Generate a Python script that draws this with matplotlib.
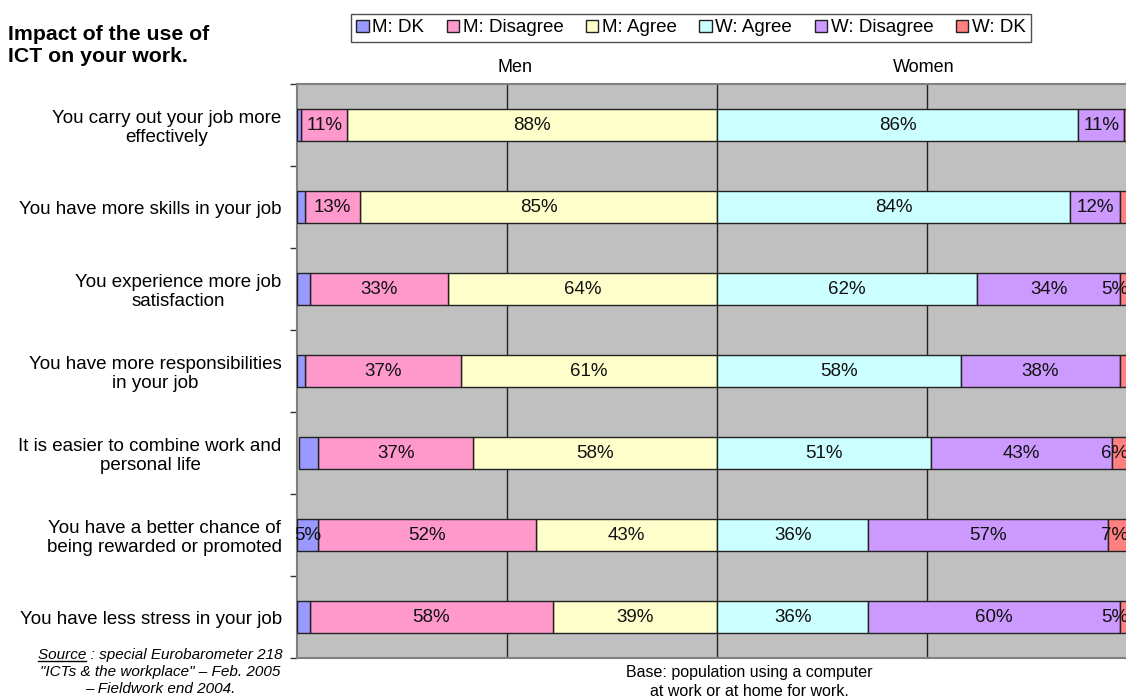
import matplotlib
matplotlib.use("Agg")
import matplotlib.pyplot as plt
from matplotlib.lines import Line2D
from matplotlib.patches import Patch

plt.rcParams['font.family'] = ['Liberation Sans', 'DejaVu Sans']

# categories top to bottom
cats = ["You carry out your job more\neffectively",
        "You have more skills in your job",
        "You experience more job\nsatisfaction",
        "You have more responsibilities\nin your job",
        "It is easier to combine work and\npersonal life",
        "You have a better chance of\nbeing rewarded or promoted",
        "You have less stress in your job"]

m_dk = [1, 2, 3, 2, 4.6, 5, 3]
m_dis = [11, 13, 33, 37, 37, 52, 58]
m_agree = [88, 85, 64, 61, 58, 43, 39]
w_agree = [86, 84, 62, 58, 51, 36, 36]
w_dis = [11, 12, 34, 38, 43, 57, 60]
w_dk = [3, 4, 5, 4, 6, 7, 5]

names = ["M: DK", "M: Disagree", "M: Agree", "W: Agree", "W: Disagree", "W: DK"]
colors = ["#9999FF", "#FF99CC", "#FFFFCC", "#CCFFFF", "#CC99FF", "#FF8080"]

W, H = 1126, 700
fig = plt.figure(figsize=(W / 100, H / 100), dpi=100)
ax = fig.add_axes([297 / W, (H - 658) / H, (1137 - 297) / W, (658 - 84) / H])
ax.set_facecolor("#C0C0C0")

ys = list(range(len(cats)))
bh = 0.4


def seg(lefts, widths, col):
    bars = ax.barh(ys, widths, left=lefts, height=bh, color=col,
                   edgecolor="#222222", linewidth=1, zorder=3)
    for y, l, w in zip(ys, lefts, widths):
        if w >= 5:
            # keep the label inside the picture at the right edge
            cx = min(l + w / 2, 94.6)
            ax.text(cx, y, "%d%%" % round(w), ha="center", va="center",
                    fontsize=13.5, color="#111111", zorder=4, clip_on=False)
    return bars


# men grow to the left of 0, women to the right
seg([-a for a in m_agree], m_agree, colors[2])
seg([-a - d for a, d in zip(m_agree, m_dis)], m_dis, colors[1])
seg([-a - d - k for a, d, k in zip(m_agree, m_dis, m_dk)], m_dk, colors[0])
seg([0] * len(ys), w_agree, colors[3])
seg(w_agree, w_dis, colors[4])
seg([a + d for a, d in zip(w_agree, w_dis)], w_dk, colors[5])

ax.set_xlim(-100, 100)
ax.set_ylim(len(cats) - 0.5, -0.5)
for xv in [-50, 0, 50]:
    ax.axvline(xv, color="#222222", linewidth=1, zorder=1)
ax.set_xticks([])

ax.set_yticks(ys)
ax.set_yticklabels(cats, fontsize=13.5, multialignment="center", linespacing=1.15)
ax.set_yticks([y - 0.5 for y in ys] + [len(cats) - 0.5], minor=True)
ax.tick_params(axis="y", which="major", length=0, pad=11)
ax.tick_params(axis="y", which="minor", length=5, color="#333333", width=1)

for s in ["top", "bottom", "left"]:
    ax.spines[s].set_color("#808080")
    ax.spines[s].set_linewidth(1.5)
ax.spines["right"].set_visible(False)

fig.text(515 / W, 1 - 67 / H, "Men", ha="center", va="center", fontsize=13)
fig.text(924 / W, 1 - 67 / H, "Women", ha="center", va="center", fontsize=13)

fig.text(8 / W, 1 - 45 / H, "Impact of the use of\nICT on your work.", ha="left",
         va="center", fontsize=15.3, fontweight="bold", linespacing=1.2)

handles = [Patch(facecolor=c, edgecolor="#222222", linewidth=1) for c in colors]
leg = fig.legend(handles, names, loc="center", bbox_to_anchor=(691 / W, 1 - 28 / H),
                 ncol=6, fontsize=13.5, frameon=True, fancybox=False,
                 handlelength=0.65, handleheight=0.65, handletextpad=0.2,
                 columnspacing=1.2, borderpad=0.3, borderaxespad=0)
leg.get_frame().set_edgecolor("#222222")
leg.get_frame().set_linewidth(1)

# source note
sx = 160 / W
src1 = fig.text(sx, 1 - 655 / H, "Source : special Eurobarometer 218",
                ha="center", va="center", fontsize=11, style="italic")
fig.text(sx, 1 - 672 / H, "\"ICTs & the workplace\" \u2013 Feb. 2005",
         ha="center", va="center", fontsize=11, style="italic")
fig.text(sx, 1 - 689 / H, "\u2013 Fieldwork end 2004.",
         ha="center", va="center", fontsize=11, style="italic")

fig.text(749 / W, 1 - 682 / H, "Base: population using a computer\nat work or at home for work.",
         ha="center", va="center", fontsize=11.5, linespacing=1.25)

# underline the word "Source"
r = fig.canvas.get_renderer()
bb = src1.get_window_extent(r)
tmp = fig.text(0, 0, "Source", fontsize=11, style="italic")
wb = tmp.get_window_extent(r)
tmp.remove()
uy = bb.y0 + 1
fig.add_artist(Line2D([bb.x0 / W, (bb.x0 + wb.width) / W], [uy / H, uy / H],
                      color="black", linewidth=1))

fig.savefig("out.png", dpi=100)
